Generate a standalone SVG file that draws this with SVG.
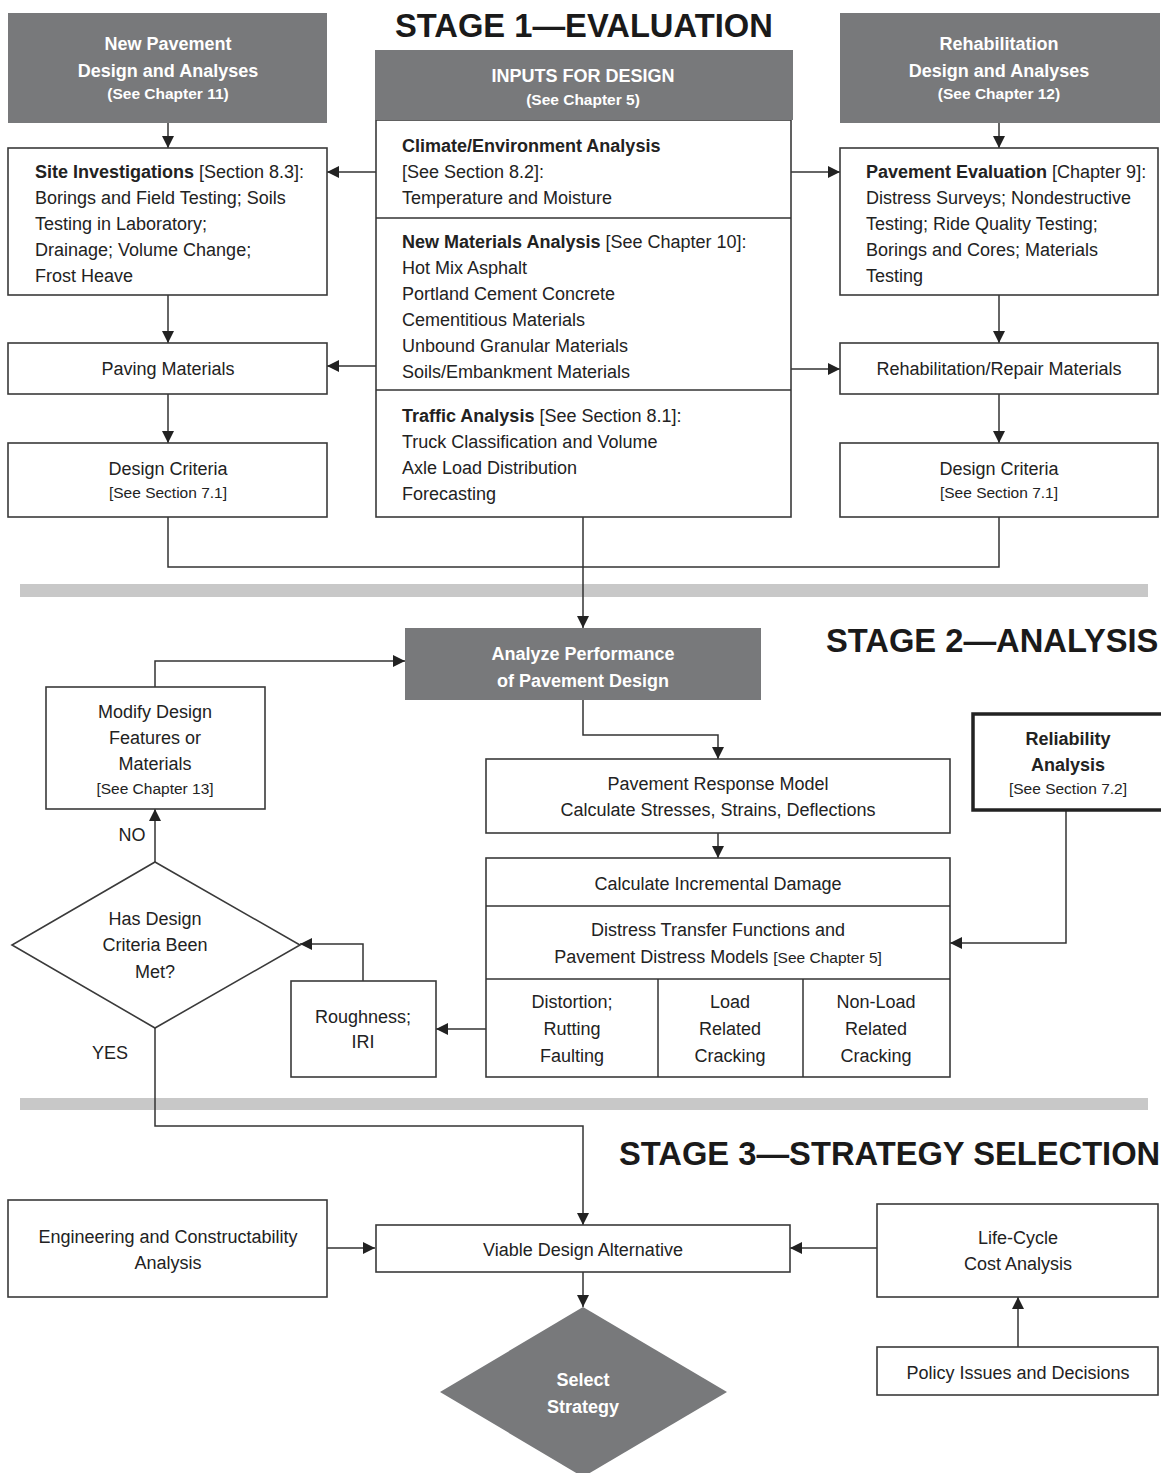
<svg xmlns="http://www.w3.org/2000/svg" width="1161" height="1473" viewBox="0 0 1161 1473">
<style>
text{font-family:"Liberation Sans",Arial,sans-serif;fill:#222;font-size:18px}
.c{text-anchor:middle}
.b{font-weight:bold}
.s{font-size:15.5px}
.w{fill:#fff;font-weight:bold}
.t{font-size:32.7px;font-weight:bold;fill:#1a1a1a}
.box{fill:#fff;stroke:#3a3a3a;stroke-width:1.6}
.gray{fill:#78797b;stroke:none}
.ln{fill:none;stroke:#333;stroke-width:1.5}
.band{fill:#c8c8c8}
</style>
<defs>
<marker id="ah" markerUnits="userSpaceOnUse" markerWidth="13" markerHeight="12" refX="12" refY="6" orient="auto">
<path d="M0,0 L12,6 L0,12 z" fill="#222"/>
</marker>
</defs>
<rect width="1161" height="1473" fill="#fff"/>
<rect class="band" x="20" y="584" width="1128" height="13"/>
<rect class="band" x="20" y="1098" width="1128" height="12"/>
<text class="t" x="395" y="37">STAGE 1—EVALUATION</text>
<text class="t" x="826" y="652">STAGE 2—ANALYSIS</text>
<text class="t" x="619" y="1165">STAGE 3—STRATEGY SELECTION</text>

<g id="connectors">
<path class="ln" marker-end="url(#ah)" d="M168,123 V148"/>
<path class="ln" marker-end="url(#ah)" d="M999,123 V148"/>
<path class="ln" marker-end="url(#ah)" d="M376,172 H327"/>
<path class="ln" marker-end="url(#ah)" d="M791,172 H840"/>
<path class="ln" marker-end="url(#ah)" d="M168,295 V343"/>
<path class="ln" marker-end="url(#ah)" d="M999,295 V343"/>
<path class="ln" marker-end="url(#ah)" d="M376,366 H327"/>
<path class="ln" marker-end="url(#ah)" d="M791,369 H840"/>
<path class="ln" marker-end="url(#ah)" d="M168,394 V443"/>
<path class="ln" marker-end="url(#ah)" d="M999,394 V443"/>
<path class="ln" d="M168,517 V567 H999 V517"/>
<path class="ln" marker-end="url(#ah)" d="M583,517 V628"/>
<path class="ln" marker-end="url(#ah)" d="M583,700 V735 H718 V759"/>
<path class="ln" marker-end="url(#ah)" d="M718,833 V858"/>
<path class="ln" marker-end="url(#ah)" d="M1066,811 V943 H950"/>
<path class="ln" marker-end="url(#ah)" d="M486,1029 H436"/>
<path class="ln" marker-end="url(#ah)" d="M363,981 V944 H300"/>
<path class="ln" marker-end="url(#ah)" d="M155,862 V809"/>
<path class="ln" marker-end="url(#ah)" d="M155,687 V661 H405"/>
<path class="ln" marker-end="url(#ah)" d="M155,1028 V1126 H583 V1225"/>
<path class="ln" marker-end="url(#ah)" d="M327,1248 H375"/>
<path class="ln" marker-end="url(#ah)" d="M877,1248 H790"/>
<path class="ln" marker-end="url(#ah)" d="M1018,1347 V1297"/>
<path class="ln" marker-end="url(#ah)" d="M583,1272 V1307"/>
<text x="132" y="841" class="c">NO</text>
<text x="110" y="1059" class="c">YES</text>
</g>

<g id="new-pavement">
<rect class="gray" x="8" y="13" width="319" height="110"/>
<text class="c w" x="168" y="50">New Pavement</text>
<text class="c w" x="168" y="77">Design and Analyses</text>
<text class="c w s" x="168" y="99">(See Chapter 11)</text>
</g>

<g id="rehab-design">
<rect class="gray" x="840" y="13" width="320" height="110"/>
<text class="c w" x="999" y="50">Rehabilitation</text>
<text class="c w" x="999" y="77">Design and Analyses</text>
<text class="c w s" x="999" y="99">(See Chapter 12)</text>
</g>

<g id="inputs">
<rect class="box" x="376" y="120" width="415" height="397"/>
<rect class="gray" x="375" y="50" width="418" height="70"/>
<text class="c w" x="583" y="82">INPUTS FOR DESIGN</text>
<text class="c w s" x="583" y="105">(See Chapter 5)</text>
<line class="ln" x1="376" y1="218" x2="791" y2="218"/>
<line class="ln" x1="376" y1="390" x2="791" y2="390"/>
<text x="402" y="152" class="b">Climate/Environment Analysis</text>
<text x="402" y="178">[See Section 8.2]:</text>
<text x="402" y="204">Temperature and Moisture</text>
<text x="402" y="248"><tspan class="b">New Materials Analysis</tspan> [See Chapter 10]:</text>
<text x="402" y="274">Hot Mix Asphalt</text>
<text x="402" y="300">Portland Cement Concrete</text>
<text x="402" y="326">Cementitious Materials</text>
<text x="402" y="352">Unbound Granular Materials</text>
<text x="402" y="378">Soils/Embankment Materials</text>
<text x="402" y="422"><tspan class="b">Traffic Analysis</tspan> [See Section 8.1]:</text>
<text x="402" y="448">Truck Classification and Volume</text>
<text x="402" y="474">Axle Load Distribution</text>
<text x="402" y="500">Forecasting</text>
</g>

<g id="site-investigations">
<rect class="box" x="8" y="148" width="319" height="147"/>
<text x="35" y="178"><tspan class="b">Site Investigations</tspan> [Section 8.3]:</text>
<text x="35" y="204">Borings and Field Testing; Soils</text>
<text x="35" y="230">Testing in Laboratory;</text>
<text x="35" y="256">Drainage; Volume Change;</text>
<text x="35" y="282">Frost Heave</text>
</g>

<g id="pavement-evaluation">
<rect class="box" x="840" y="148" width="318" height="147"/>
<text x="866" y="178"><tspan class="b">Pavement Evaluation</tspan> [Chapter 9]:</text>
<text x="866" y="204">Distress Surveys; Nondestructive</text>
<text x="866" y="230">Testing; Ride Quality Testing;</text>
<text x="866" y="256">Borings and Cores; Materials</text>
<text x="866" y="282">Testing</text>
</g>

<g id="paving-materials">
<rect class="box" x="8" y="343" width="319" height="51"/>
<text class="c" x="168" y="375">Paving Materials</text>
</g>

<g id="rehab-materials">
<rect class="box" x="840" y="343" width="318" height="51"/>
<text class="c" x="999" y="375">Rehabilitation/Repair Materials</text>
</g>

<g id="design-criteria-left">
<rect class="box" x="8" y="443" width="319" height="74"/>
<text class="c" x="168" y="475">Design Criteria</text>
<text class="c s" x="168" y="498">[See Section 7.1]</text>
</g>

<g id="design-criteria-right">
<rect class="box" x="840" y="443" width="318" height="74"/>
<text class="c" x="999" y="475">Design Criteria</text>
<text class="c s" x="999" y="498">[See Section 7.1]</text>
</g>

<g id="analyze">
<rect class="gray" x="405" y="628" width="356" height="72"/>
<text class="c w" x="583" y="660">Analyze Performance</text>
<text class="c w" x="583" y="687">of Pavement Design</text>
</g>

<g id="modify-design">
<rect class="box" x="46" y="687" width="219" height="122"/>
<text class="c" x="155" y="718">Modify Design</text>
<text class="c" x="155" y="744">Features or</text>
<text class="c" x="155" y="770">Materials</text>
<text class="c s" x="155" y="794">[See Chapter 13]</text>
</g>

<g id="reliability">
<rect x="973" y="714" width="200" height="96" fill="#fff" stroke="#222" stroke-width="3.5"/>
<text class="c b" x="1068" y="745">Reliability</text>
<text class="c b" x="1068" y="771">Analysis</text>
<text class="c s" x="1068" y="794">[See Section 7.2]</text>
</g>

<g id="pavement-response">
<rect class="box" x="486" y="759" width="464" height="74"/>
<text class="c" x="718" y="790">Pavement Response Model</text>
<text class="c" x="718" y="816">Calculate Stresses, Strains, Deflections</text>
</g>

<g id="damage">
<rect class="box" x="486" y="858" width="464" height="219"/>
<line class="ln" x1="486" y1="906" x2="950" y2="906"/>
<line class="ln" x1="486" y1="979" x2="950" y2="979"/>
<line class="ln" x1="658" y1="979" x2="658" y2="1077"/>
<line class="ln" x1="803" y1="979" x2="803" y2="1077"/>
<text class="c" x="718" y="890">Calculate Incremental Damage</text>
<text class="c" x="718" y="936">Distress Transfer Functions and</text>
<text class="c" x="718" y="963">Pavement Distress Models <tspan class="s">[See Chapter 5]</tspan></text>
<text class="c" x="572" y="1008">Distortion;</text>
<text class="c" x="572" y="1035">Rutting</text>
<text class="c" x="572" y="1062">Faulting</text>
<text class="c" x="730" y="1008">Load</text>
<text class="c" x="730" y="1035">Related</text>
<text class="c" x="730" y="1062">Cracking</text>
<text class="c" x="876" y="1008">Non-Load</text>
<text class="c" x="876" y="1035">Related</text>
<text class="c" x="876" y="1062">Cracking</text>
</g>

<g id="criteria-met">
<polygon points="155,862 300,945 155,1028 12,945" fill="#fff" stroke="#3a3a3a" stroke-width="1.6"/>
<text class="c" x="155" y="925">Has Design</text>
<text class="c" x="155" y="951">Criteria Been</text>
<text class="c" x="155" y="978">Met?</text>
</g>

<g id="roughness">
<rect class="box" x="291" y="981" width="145" height="96"/>
<text class="c" x="363" y="1023">Roughness;</text>
<text class="c" x="363" y="1048">IRI</text>
</g>

<g id="engineering">
<rect class="box" x="8" y="1200" width="319" height="97"/>
<text class="c" x="168" y="1243">Engineering and Constructability</text>
<text class="c" x="168" y="1269">Analysis</text>
</g>

<g id="viable">
<rect class="box" x="376" y="1225" width="414" height="47"/>
<text class="c" x="583" y="1256">Viable Design Alternative</text>
</g>

<g id="life-cycle">
<rect class="box" x="877" y="1204" width="281" height="93"/>
<text class="c" x="1018" y="1244">Life-Cycle</text>
<text class="c" x="1018" y="1270">Cost Analysis</text>
</g>

<g id="policy">
<rect class="box" x="877" y="1347" width="281" height="48"/>
<text class="c" x="1018" y="1379">Policy Issues and Decisions</text>
</g>

<g id="select-strategy">
<polygon class="gray" points="583,1307 727,1392 583,1477 440,1392"/>
<text class="c w" x="583" y="1386">Select</text>
<text class="c w" x="583" y="1413">Strategy</text>
</g>
</svg>
